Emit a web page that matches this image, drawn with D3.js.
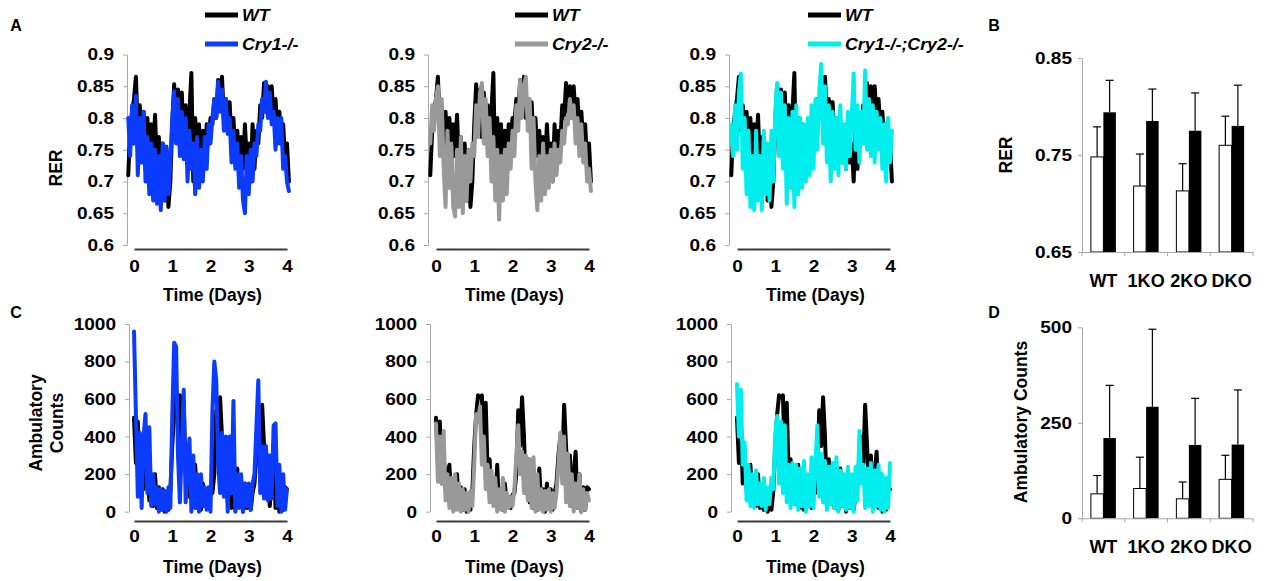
<!DOCTYPE html>
<html><head><meta charset="utf-8">
<script src="https://cdn.jsdelivr.net/npm/d3@7"></script>
<style>
body{margin:0;background:#fff}
svg text{font-family:"Liberation Sans",Arial,sans-serif;font-weight:bold;fill:#000}
</style></head><body>
<svg id="c" width="1264" height="581"></svg>
<script>
// ---------- data ----------
const dayTicks = [0, 1, 2, 3, 4];
const rerTicks = [0.6, 0.65, 0.7, 0.75, 0.8, 0.85, 0.9];
const actTicks = [0, 200, 400, 600, 800, 1000];
const rerStartDay = -0.15, actStartDay = 0, sampleStepDay = 0.05;

const rerWT = [0.71,0.78,0.81,0.83,0.865,0.78,0.82,0.76,0.81,0.74,
  0.80,0.73,0.79,0.74,0.805,0.72,0.77,0.70,0.76,0.67,
  0.75,0.66,0.70,0.79,0.853,0.78,0.845,0.77,0.84,0.76,
  0.82,0.74,0.81,0.871,0.70,0.80,0.72,0.79,0.71,0.78,
  0.72,0.79,0.76,0.80,0.79,0.83,0.80,0.86,0.83,0.865,
  0.80,0.83,0.78,0.825,0.76,0.80,0.74,0.78,0.73,0.77,
  0.72,0.79,0.73,0.76,0.70,0.79,0.72,0.78,0.76,0.82,
  0.80,0.855,0.81,0.85,0.82,0.85,0.80,0.83,0.78,0.81,
  0.76,0.79,0.73,0.76,0.70];
const rerCry1 = [0.80,0.74,0.82,0.76,0.835,0.71,0.80,0.73,0.81,0.70,
  0.77,0.68,0.76,0.67,0.75,0.665,0.74,0.655,0.76,0.67,
  0.755,0.68,0.73,0.80,0.842,0.76,0.83,0.74,0.81,0.735,
  0.80,0.70,0.78,0.72,0.76,0.68,0.77,0.69,0.75,0.70,
  0.77,0.72,0.79,0.76,0.80,0.83,0.80,0.857,0.81,0.845,
  0.78,0.83,0.775,0.80,0.73,0.78,0.72,0.76,0.69,0.74,
  0.67,0.65,0.74,0.68,0.75,0.70,0.76,0.74,0.79,0.78,
  0.83,0.81,0.857,0.80,0.84,0.79,0.81,0.75,0.80,0.76,
  0.80,0.72,0.74,0.70,0.685];
const rerCry2 = [0.76,0.82,0.78,0.83,0.85,0.74,0.83,0.72,0.66,0.78,
  0.69,0.76,0.66,0.645,0.75,0.66,0.77,0.65,0.74,0.67,
  0.75,0.70,0.76,0.74,0.82,0.77,0.84,0.855,0.76,0.83,
  0.74,0.80,0.70,0.77,0.67,0.75,0.64,0.74,0.67,0.75,
  0.68,0.76,0.72,0.78,0.74,0.82,0.78,0.86,0.80,0.85,
  0.865,0.78,0.83,0.72,0.80,0.70,0.655,0.74,0.67,0.76,
  0.68,0.74,0.69,0.75,0.70,0.76,0.71,0.75,0.73,0.78,
  0.76,0.80,0.79,0.83,0.80,0.82,0.76,0.80,0.74,0.79,
  0.73,0.76,0.70,0.72,0.685];
const rerDKO = [0.79,0.74,0.82,0.75,0.84,0.87,0.72,0.80,0.68,0.78,
  0.66,0.74,0.655,0.78,0.67,0.74,0.655,0.78,0.68,0.76,
  0.67,0.78,0.70,0.81,0.855,0.74,0.84,0.72,0.82,0.665,
  0.80,0.69,0.81,0.66,0.82,0.68,0.80,0.69,0.79,0.70,
  0.80,0.71,0.82,0.72,0.83,0.75,0.84,0.885,0.76,0.85,
  0.73,0.82,0.70,0.81,0.72,0.80,0.71,0.82,0.73,0.79,
  0.72,0.81,0.74,0.80,0.87,0.75,0.82,0.73,0.81,0.76,
  0.875,0.75,0.83,0.74,0.82,0.73,0.81,0.75,0.80,0.72,
  0.79,0.70,0.80,0.73,0.78];

const actWT = [500,260,480,150,300,120,200,250,60,150,
  30,200,20,130,10,120,0,90,10,110,
  350,520,620,610,620,300,580,200,280,80,
  150,40,250,20,120,10,150,30,80,20,
  90,100,200,540,350,610,400,100,280,50,
  230,20,150,10,230,30,120,0,150,20,
  120,10,100,150,300,400,250,570,350,100,
  300,30,200,320,20,200,0,130,10,130,
  120];
const actCry1 = [960,520,80,420,20,400,520,100,450,30,
  200,40,130,0,120,10,110,0,130,20,
  500,900,880,300,50,350,650,50,250,390,
  0,300,20,200,0,200,30,130,10,130,
  0,540,800,700,260,100,420,80,400,0,
  400,100,590,0,200,20,200,0,150,30,
  150,10,150,200,450,700,100,350,70,350,
  60,300,70,460,470,30,250,0,200,10,
  120];
const actCry2 = [470,160,400,150,430,60,200,20,180,0,
  200,10,150,0,120,10,100,0,110,30,
  250,520,480,560,250,400,120,250,50,220,
  30,180,0,120,10,180,0,100,20,80,
  30,120,300,460,200,320,100,300,60,280,
  20,290,0,200,10,120,0,110,10,120,
  0,100,20,100,250,420,150,400,50,310,
  30,200,0,150,20,200,0,120,10,100,
  60];
const actDKO = [680,400,650,250,370,60,250,30,200,20,
  220,40,150,30,180,10,130,40,180,120,
  420,510,150,480,100,460,50,250,20,260,
  40,250,10,230,30,270,0,200,30,290,
  20,250,460,80,310,50,270,10,240,40,
  260,20,290,0,220,30,200,10,240,20,
  200,0,240,60,430,150,250,20,230,30,
  260,0,220,30,250,10,200,0,180,20,
  260];

const genotypes = ["WT", "1KO", "2KO", "DKO"];
const rerLight = [0.748, 0.718, 0.713, 0.760];
const rerLightSD = [0.031, 0.033, 0.028, 0.030];
const rerDark = [0.794, 0.785, 0.775, 0.780];
const rerDarkSD = [0.033, 0.033, 0.039, 0.042];
const actLight = [64, 78, 51, 102];
const actLightSD = [48, 82, 44, 63];
const actDark = [210, 292, 192, 193];
const actDarkSD = [138, 203, 122, 143];
const barRerTicks = [0.65, 0.75, 0.85];
const barActTicks = [0, 250, 500];

// ---------- drawing ----------
const svg = d3.select("#c");
const FONT = '"Liberation Sans",Arial,sans-serif';

function stretchText(sel, size, sx){
  sel.each(function(){
    const t = d3.select(this);
    const x = +t.attr("x") || 0, y = +t.attr("y") || 0;
    t.attr("x", 0).attr("y", 0)
     .attr("transform", `translate(${x},${y}) scale(${sx},1)`)
     .style("font-size", size + "px").style("font-family", FONT).style("font-weight", "bold");
  });
}
function label(x, y, txt, size, opts = {}){
  const t = svg.append("text")
    .attr("transform", `translate(${x},${y})` + (opts.rot ? ` rotate(${opts.rot})` : "") + ` scale(${opts.sx || 1},1)`)
    .attr("text-anchor", opts.anchor || "middle")
    .style("font-size", size + "px");
  if (opts.italic) t.style("font-style", "italic");
  t.text(txt);
  return t;
}

const panels = [
  {rer: rerCry1, act: actCry1, name: "Cry1-/-", color: "#0b3bff", x0: 134, rerAxis: 127, actAxis: 129, legX: 205},
  {rer: rerCry2, act: actCry2, name: "Cry2-/-", color: "#999999", x0: 436, rerAxis: 428, actAxis: 430, legX: 515},
  {rer: rerDKO, act: actDKO, name: "Cry1-/-;Cry2-/-", color: "#00eeee", x0: 737, rerAxis: 729, actAxis: 731, legX: 808}
];

const TICK_FS = 17, TICK_SX = 1.12;

function tsPanel(o){
  const x = d3.scaleLinear().domain([0, 4]).range([o.x0, o.x0 + 153]);
  const y = d3.scaleLinear().domain(o.yDomain).range(o.yRange);
  // y axis
  const ya = svg.append("g").attr("transform", `translate(${o.axisX},0)`)
    .call(d3.axisLeft(y).tickValues(o.ticks).tickSize(4).tickSizeOuter(0).tickPadding(9).tickFormat(d => String(d)));
  ya.select(".domain").attr("stroke", "#a8a8a8");
  ya.selectAll(".tick line").attr("stroke", "#a8a8a8");
  stretchText(ya.selectAll("text"), TICK_FS, TICK_SX);
  // x axis
  const xa = svg.append("g").attr("transform", `translate(0,${o.xAxisY})`)
    .call(d3.axisBottom(x).tickValues(dayTicks).tickSize(0).tickSizeOuter(0).tickPadding(o.xPad).tickFormat(d3.format("d")));
  xa.select(".domain").attr("stroke", "#3a3a3a").attr("stroke-width", 2);
  stretchText(xa.selectAll("text"), TICK_FS, TICK_SX);
  // lines
  o.series.forEach(s => {
    const line = d3.line().x((d, i) => x(o.start + i * sampleStepDay)).y(d => y(d));
    svg.append("path").datum(s.values).attr("d", line)
      .attr("fill", "none").attr("stroke", s.color).attr("stroke-width", 4)
      .attr("stroke-linejoin", "round").attr("stroke-linecap", "round");
  });
  label((x(0) + x(4)) / 2 + 2, o.titleY, "Time (Days)", 17.5);
}

panels.forEach(p => {
  tsPanel({x0: p.x0, axisX: p.rerAxis, yDomain: [0.6, 0.9], yRange: [245, 54.5], ticks: rerTicks,
    xAxisY: 249, xPad: 11, titleY: 301, start: rerStartDay,
    series: [{values: rerWT, color: "#000"}, {values: p.rer, color: p.color}]});
  tsPanel({x0: p.x0, axisX: p.actAxis, yDomain: [0, 1000], yRange: [511.7, 324], ticks: actTicks,
    xAxisY: 521, xPad: 9, titleY: 573, start: actStartDay,
    series: [{values: actWT, color: "#000"}, {values: p.act, color: p.color}]});
  // legend
  [["WT", "#000", 15], [p.name, p.color, 44]].forEach(([n, c, yy]) => {
    svg.append("line").attr("x1", p.legX).attr("x2", p.legX + 33).attr("y1", yy).attr("y2", yy)
      .attr("stroke", c).attr("stroke-width", 5);
    label(p.legX + 37, yy + 6, n, 16.5, {anchor: "start", italic: true, sx: 1.08});
  });
});

// axis titles / panel letters
label(62, 168, "RER", 17.5, {rot: -90});
label(42, 423, "Ambulatory", 17.5, {rot: -90});
label(63, 423, "Counts", 17.5, {rot: -90});
label(16, 31, "A", 16, {});
label(16, 318, "C", 16, {});
label(994, 31, "B", 16, {});
label(994, 318, "D", 16, {});

// bar panels
function barPanel(o){
  const x = d3.scaleBand().domain(genotypes).range([1082, 1253]);
  const bw = x.bandwidth();
  const sub = d3.scaleBand().domain(["light", "dark"]).range([bw / 2 - 12.5, bw / 2 + 12.5]);
  const y = d3.scaleLinear().domain(o.domain).range(o.range);
  const rows = genotypes.map((g, i) => ({g, light: o.light[i], lightSD: o.lightSD[i], dark: o.dark[i], darkSD: o.darkSD[i]}));
  // error bars (behind bars)
  ["light", "dark"].forEach(k => {
    const cx = d => x(d.g) + sub(k) + sub.bandwidth() / 2;
    svg.append("g").selectAll("line.v").data(rows).join("line")
      .attr("x1", cx).attr("x2", cx).attr("y1", d => y(d[k])).attr("y2", d => y(d[k] + d[k + "SD"]))
      .attr("stroke", "#000").attr("stroke-width", 1.2);
    svg.append("g").selectAll("line.c").data(rows).join("line")
      .attr("x1", d => cx(d) - 4).attr("x2", d => cx(d) + 4)
      .attr("y1", d => y(d[k] + d[k + "SD"])).attr("y2", d => y(d[k] + d[k + "SD"]))
      .attr("stroke", "#000").attr("stroke-width", 1.2);
  });
  svg.append("g").selectAll("rect").data(rows).join("rect")
    .attr("x", d => x(d.g) + sub("light")).attr("width", sub.bandwidth())
    .attr("y", d => y(d.light)).attr("height", d => o.range[0] - y(d.light))
    .attr("fill", "#fff").attr("stroke", "#000").attr("stroke-width", 1);
  svg.append("g").selectAll("rect").data(rows).join("rect")
    .attr("x", d => x(d.g) + sub("dark")).attr("width", sub.bandwidth())
    .attr("y", d => y(d.dark)).attr("height", d => o.range[0] - y(d.dark))
    .attr("fill", "#000");
  // y axis
  const ya = svg.append("g").attr("transform", `translate(1082,0)`)
    .call(d3.axisLeft(y).tickValues(o.ticks).tickSize(4).tickSizeOuter(0).tickPadding(6).tickFormat(d => String(d)));
  ya.select(".domain").attr("stroke", "#a8a8a8");
  ya.selectAll(".tick line").attr("stroke", "#a8a8a8");
  stretchText(ya.selectAll("text"), TICK_FS, TICK_SX);
  // x axis
  const xa = svg.append("g").attr("transform", `translate(0,${o.range[0]})`)
    .call(d3.axisBottom(x).tickSize(0).tickSizeOuter(0).tickPadding(o.xPad));
  xa.select(".domain").attr("stroke", "#a8a8a8");
  stretchText(xa.selectAll("text"), 17.5, 1.03);
  // category boundary ticks
  const bounds = genotypes.map(g => x(g)).concat([x(genotypes[genotypes.length - 1]) + bw]);
  svg.append("g").selectAll("line").data(bounds).join("line")
    .attr("x1", d => d).attr("x2", d => d).attr("y1", o.range[0]).attr("y2", o.range[0] + 4)
    .attr("stroke", "#a8a8a8");
}
barPanel({domain: [0.65, 0.85], range: [252, 58], ticks: barRerTicks, light: rerLight, lightSD: rerLightSD,
  dark: rerDark, darkSD: rerDarkSD, xPad: 23});
barPanel({domain: [0, 500], range: [518.3, 327.3], ticks: barActTicks, light: actLight, lightSD: actLightSD,
  dark: actDark, darkSD: actDarkSD, xPad: 22});
label(1012, 155, "RER", 17.5, {rot: -90});
label(1027, 422, "Ambulatory Counts", 17.5, {rot: -90});
</script>
</body></html>
